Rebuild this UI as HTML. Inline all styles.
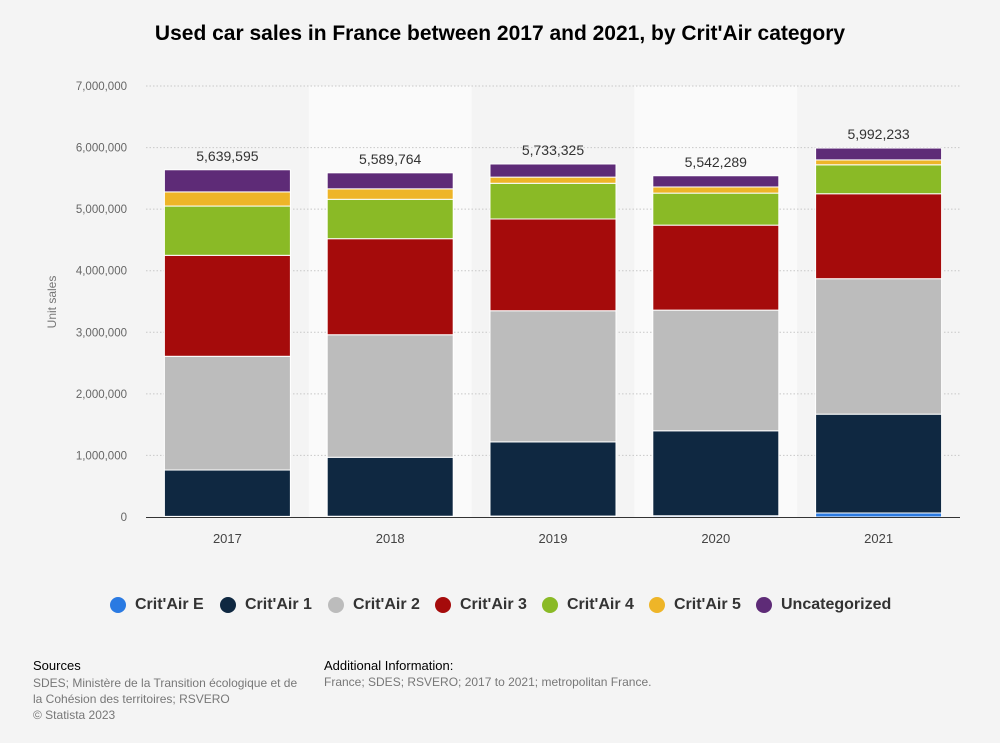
<!DOCTYPE html>
<html><head><meta charset="utf-8"><style>
body{margin:0;background:#f4f4f4;font-family:"Liberation Sans",sans-serif;}
#wrap{position:relative;width:1000px;height:743px;overflow:hidden;background:#f4f4f4;}
.t{position:absolute;white-space:nowrap;}
.leg{position:absolute;top:596px;font-size:16px;font-weight:bold;color:#333;display:flex;align-items:center;}
.leg i{display:inline-block;width:16px;height:16px;border-radius:50%;margin-right:9px;}
</style></head><body>
<div id="wrap">
<div class="t" style="left:0;width:1000px;text-align:center;top:22px;font-size:21px;font-weight:bold;color:#000;">Used car sales in France between 2017 and 2021, by Crit'Air category</div>
<svg id="chart" width="1000" height="743" style="position:absolute;left:0;top:0"></svg>
<div class="leg" style="left:110px"><i style="background:#2a7ae2"></i>Crit'Air E</div>
<div class="leg" style="left:220px"><i style="background:#0f2841"></i>Crit'Air 1</div>
<div class="leg" style="left:328px"><i style="background:#bcbcbc"></i>Crit'Air 2</div>
<div class="leg" style="left:435px"><i style="background:#a50b0b"></i>Crit'Air 3</div>
<div class="leg" style="left:542px"><i style="background:#8aba26"></i>Crit'Air 4</div>
<div class="leg" style="left:649px"><i style="background:#eeb528"></i>Crit'Air 5</div>
<div class="leg" style="left:756px"><i style="background:#5e2b77"></i>Uncategorized</div>
<div class="t" style="left:33px;top:658px;font-size:13px;color:#000">Sources</div>
<div class="t" style="left:33px;top:675px;font-size:12px;color:#777;line-height:16px;white-space:normal;width:272px">SDES; Ministère de la Transition écologique et de la Cohésion des territoires; RSVERO<br>© Statista 2023</div>
<div class="t" style="left:324px;top:658px;font-size:13px;color:#000">Additional Information:</div>
<div class="t" style="left:324px;top:675px;font-size:12px;color:#777">France; SDES; RSVERO; 2017 to 2021; metropolitan France.</div>
</div>
<script>
const years=['2017','2018','2019','2020','2021'];
const seriesNames=["Crit'Air E","Crit'Air 1","Crit'Air 2","Crit'Air 3","Crit'Air 4","Crit'Air 5","Uncategorized"];
const colors=['#2a7ae2','#0f2841','#bcbcbc','#a50b0b','#8aba26','#eeb528','#5e2b77'];
const critE=[10000,12000,15000,20000,65000];
const crit1=[753000,958000,1205000,1380000,1605000];
const crit2=[1847000,1990000,2130000,1960000,2200000];
const crit3=[1640000,1560000,1490000,1380000,1380000];
const crit4=[800000,640000,580000,520000,470000];
const crit5=[230000,170000,100000,100000,80000];
const uncat=[359595,259764,213325,182289,192233];
const totals=['5,639,595','5,589,764','5,733,325','5,542,289','5,992,233'];
const yTicks=[0,1000000,2000000,3000000,4000000,5000000,6000000,7000000];
const yTickLabels=['0','1,000,000','2,000,000','3,000,000','4,000,000','5,000,000','6,000,000','7,000,000'];
const series=[critE,crit1,crit2,crit3,crit4,crit5,uncat];
const svg=document.getElementById('chart');const NS='http://www.w3.org/2000/svg';
const x0=146,x1=960,y0=517,yTop=86,yMax=7000000;
const band=(x1-x0)/years.length;
const y=v=>y0-(v/yMax)*(y0-yTop);
const bx=i=>x0+band*i;
function mk(t,a){const e=document.createElementNS(NS,t);for(const k in a)e.setAttribute(k,a[k]);svg.appendChild(e);return e;}
years.forEach((yr,i)=>{if(i%2==1){const r=mk('rect',{x:bx(i),y:yTop,width:band,height:y0-yTop,fill:'#fafafa'});

}});
yTicks.forEach((v,i)=>{
 if(v>0){const l=mk('line',{x1:x0,x2:x1,y1:y(v),y2:y(v),stroke:'#c8c8c8','stroke-dasharray':'1.5,2'});
 
 }
 const t=mk('text',{x:127,y:y(v)+4,'text-anchor':'end','font-size':11.5,fill:'#666','font-family':'Liberation Sans'});t.textContent=yTickLabels[i];
 
 
});
const yt=mk('text',{x:56,y:302,'text-anchor':'middle','font-size':12,fill:'#777',transform:'rotate(-90 56 302)','font-family':'Liberation Sans'});yt.textContent='Unit sales';


years.forEach((yr,i)=>{
 const cx=bx(i)+band/2,w=126;let acc=0;
 series.forEach((s,k)=>{const v=s[i];const r=mk('rect',{x:cx-w/2,y:y(acc+v),width:w,height:Math.max(0,y(acc)-y(acc+v)),fill:colors[k],stroke:'#fff','stroke-width':1});
 
 
 acc+=v;});
 const lt=mk('text',{x:cx,y:y(acc)-9,'text-anchor':'middle','font-size':14,fill:'#333','font-family':'Liberation Sans'});lt.textContent=totals[i];
 
 
 const xt=mk('text',{x:cx,y:543,'text-anchor':'middle','font-size':13,fill:'#444','font-family':'Liberation Sans'});xt.textContent=yr;
 
 
});
const ax=mk('line',{x1:x0,x2:x1,y1:y0+0.5,y2:y0+0.5,stroke:'#333','stroke-width':1});


</script>
</body></html>
